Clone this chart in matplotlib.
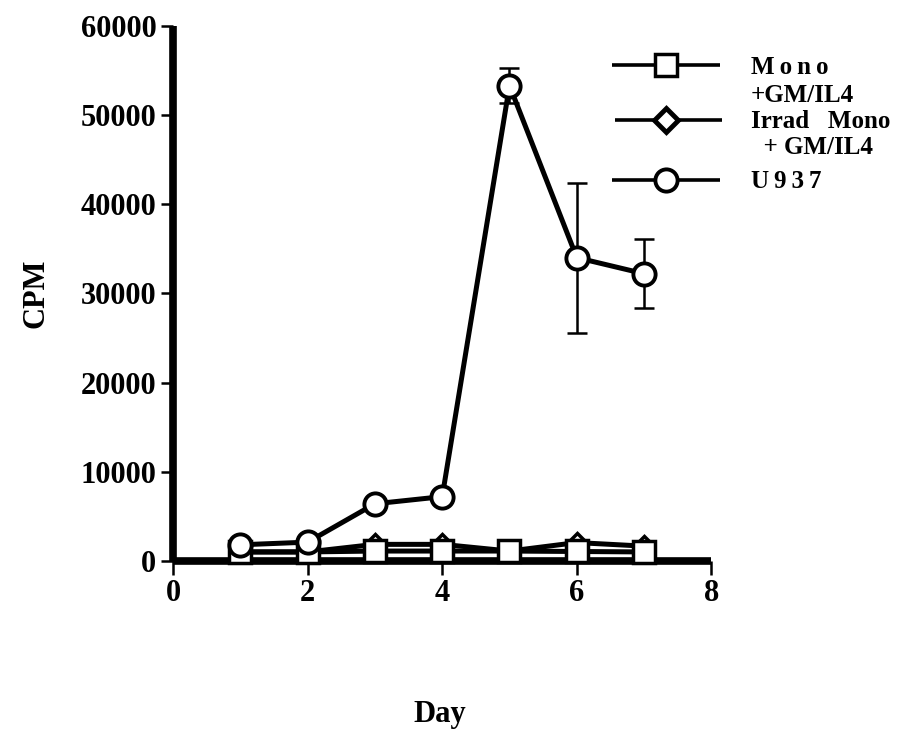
import matplotlib
matplotlib.use("Agg")
import matplotlib.pyplot as plt
from matplotlib.lines import Line2D

# Proliferation (CPM) over culture days
days = [1, 2, 3, 4, 5, 6, 7]
mono_gm_il4 = [1000, 1000, 1100, 1100, 1100, 1050, 1000]
irrad_mono_gm_il4 = [1000, 1000, 1850, 1850, 1100, 2050, 1650]
u937 = [1800, 2100, 6400, 7200, 53300, 34000, 32200]
u937_err = [0, 0, 0, 0, 2000, 8400, 3900]

x_ticks = [0, 2, 4, 6, 8]
y_ticks = [0, 10000, 20000, 30000, 40000, 50000, 60000]

serif = ["Liberation Serif", "DejaVu Serif"]
plt.rcParams["font.family"] = serif
plt.rcParams["font.weight"] = "bold"

fig = plt.figure(figsize=(8.97, 7.37), dpi=100)
ax = fig.add_axes([0.193, 0.239, 0.600, 0.726])

lw = 3.6
ax.plot(days, irrad_mono_gm_il4, color="black", lw=lw, marker="D", ms=10,
        mfc="white", mec="black", mew=2.5, zorder=3, clip_on=False)
ax.plot(days, mono_gm_il4, color="black", lw=lw, marker="s", ms=16,
        mfc="white", mec="black", mew=2.5, zorder=4, clip_on=False)

# error bars for U937, drawn beneath the open circles
err_days = [d for d, e in zip(days, u937_err) if e > 0]
err_vals = [v for v, e in zip(u937, u937_err) if e > 0]
err_sizes = [e for e in u937_err if e > 0]
ax.errorbar(err_days, err_vals, yerr=err_sizes, fmt="none", ecolor="black",
            elinewidth=1.8, capsize=7.5, capthick=1.8, zorder=2)
ax.plot(days, u937, color="black", lw=lw, marker="o", ms=16,
        mfc="white", mec="black", mew=2.8, zorder=5, clip_on=False)

ax.set_xlim(0, 8)
ax.set_ylim(0, 60000)
ax.set_xticks(x_ticks)
ax.set_yticks(y_ticks)
ax.set_xticklabels([str(t) for t in x_ticks])
ax.set_yticklabels([str(t) for t in y_ticks])

for side in ("top", "right"):
    ax.spines[side].set_visible(False)
for side in ("left", "bottom"):
    ax.spines[side].set_linewidth(5.5)
    ax.spines[side].set_capstyle("butt")

ax.tick_params(axis="y", direction="out", length=9, width=1.8, pad=3,
               labelsize=22)
ax.tick_params(axis="x", direction="out", length=10, width=1.8, pad=3,
               labelsize=22)
for lab in ax.get_xticklabels() + ax.get_yticklabels():
    lab.set_fontweight("bold")

ax.set_ylabel("CPM", fontsize=22, fontweight="bold", labelpad=22)
fig.text(0.49, 0.030, "Day", fontsize=22, fontweight="bold",
         ha="center", va="center")

# legend keys and labels
def fx(px):
    return px / 897.0

def fy(py):
    return 1 - py / 737.0

legend_rows = [
    (65, "s", 16, 2.5, (612, 720)),
    (120, "D", 12, 3.5, (615, 722)),
    (180, "o", 16, 2.8, (612, 720)),
]
for py, mk, ms, mew, (x0, x1) in legend_rows:
    fig.add_artist(Line2D([fx(x0), fx(x1)], [fy(py), fy(py)], color="black",
                          lw=2.6, solid_capstyle="butt"))
    fig.add_artist(Line2D([fx(666)], [fy(py)], marker=mk, ms=ms,
                          mfc="white", mec="black", mew=mew, lw=0))

ts = "\u2009"
legend_texts = [
    (68, ts.join("Mono")),
    (95, "+GM/IL4"),
    (121, "Irrad   Mono"),
    (148, "  + GM/IL4"),
    (182, ts.join("U937")),
]
for py, txt in legend_texts:
    fig.text(fx(751), fy(py), txt, fontsize=18, fontweight="bold",
             ha="left", va="center")

fig.savefig("out.png", dpi=100)
